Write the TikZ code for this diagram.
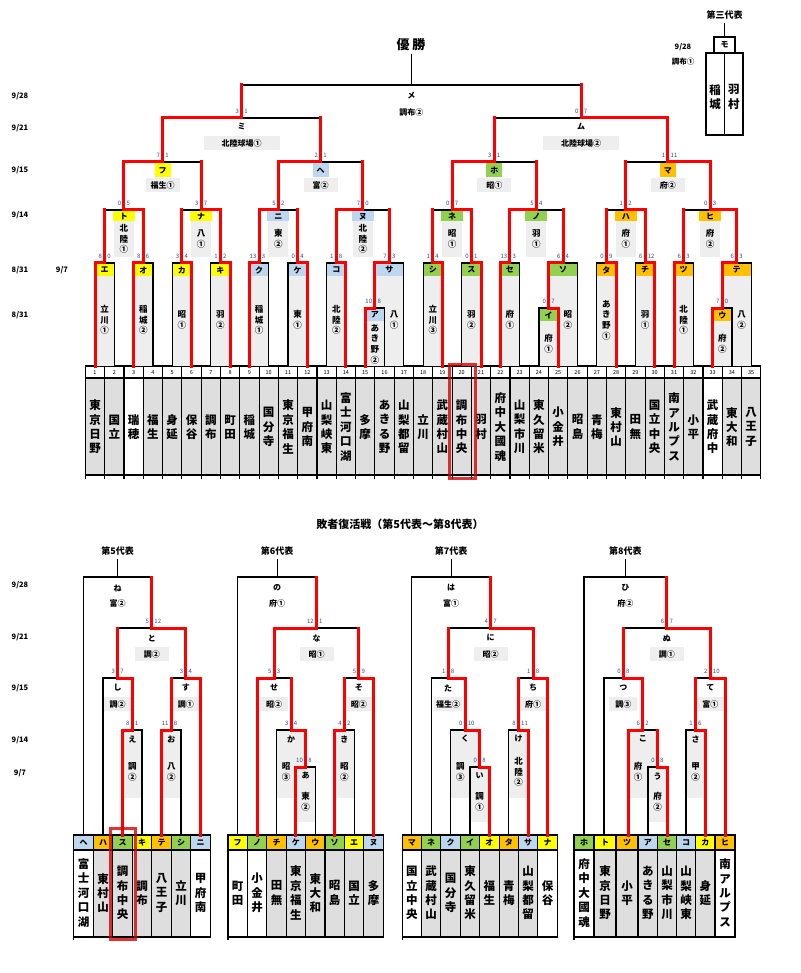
\documentclass[tikz,border=0pt]{standalone}
\usepackage{fontspec}
\setmainfont{Noto Sans CJK JP}
\definecolor{cy}{HTML}{FFFF00}
\definecolor{cb}{HTML}{BDD7EE}
\definecolor{cg}{HTML}{92D050}
\definecolor{co}{HTML}{FFC000}
\definecolor{lg}{HTML}{EEEEEE}
\definecolor{tg}{HTML}{DEDEDE}
\definecolor{scol}{HTML}{2F4F8F}
\definecolor{rl}{HTML}{FF0000}
\def\vtend{VTEND}
\newcommand\vtl[1]{\ifx#1\vtend\else\hbox to 1.15em{\hss#1\hss}\expandafter\vtl\fi}
\newcommand\vt[1]{\vbox{\baselineskip=1.25em\lineskip=0pt\lineskiplimit=-20pt\expandafter\vtl#1\vtend}}
\newcommand\Mblack[8]{\draw[bk] (#1,#2) -- (#1,#5) -- (#3,#5) -- (#3,#4);}
\newcommand\Mred[8]{%
  \ifnum#6=1 \draw[rd] (#1,#2) -- (#1,#5);\fi
  \ifnum#7=1 \draw[rd] (#3,#4) -- (#3,#5);\fi
  \ifnum#8=1 \draw[rd] (#1,#5) -- ({(#1+#3)/2},#5);\fi
  \ifnum#8=2 \draw[rd] (#3,#5) -- ({(#1+#3)/2},#5);\fi}
\newcommand\scr[4]{\node[sc,anchor=east] at ({#1-2.5},{#2-7}) {#3};\node[sc,anchor=west] at ({#1+2.5},{#2-7}) {#4};}
\def\allmatches{%
% top bracket
\M{365.2}{366}{384.5}{366}{308}{1}{0}{1}
\M{538.9}{366}{558.2}{366}{308}{0}{1}{2}
\M{712.6}{366}{731.9}{366}{308}{1}{0}{1}
\M{95}{366}{114.3}{366}{263}{1}{0}{1}
\M{133.6}{366}{152.9}{366}{263}{1}{0}{1}
\M{172.2}{366}{191.5}{366}{263}{0}{1}{2}
\M{210.8}{366}{230.1}{366}{263}{0}{1}{2}
\M{249.4}{366}{268.7}{366}{263}{1}{0}{1}
\M{288}{366}{307.3}{366}{263}{0}{1}{2}
\M{326.6}{366}{345.9}{366}{263}{0}{1}{2}
\M{374.85}{308}{403.8}{366}{263}{1}{0}{1}
\M{423.1}{366}{442.4}{366}{263}{0}{1}{2}
\M{461.7}{366}{481}{366}{263}{0}{1}{2}
\M{500.3}{366}{519.6}{366}{263}{1}{0}{1}
\M{548.55}{308}{577.5}{366}{263}{1}{0}{1}
\M{596.8}{366}{616.1}{366}{263}{0}{1}{2}
\M{635.4}{366}{654.7}{366}{263}{0}{1}{2}
\M{674}{366}{693.3}{366}{263}{1}{0}{1}
\M{722.25}{308}{751.2}{366}{263}{1}{0}{1}
\M{104.65}{263}{143.25}{263}{210}{1}{1}{2}
\M{181.85}{263}{220.45}{263}{210}{1}{1}{2}
\M{259.05}{263}{297.65}{263}{210}{1}{1}{1}
\M{336.25}{263}{389.33}{263}{210}{1}{1}{1}
\M{432.75}{263}{471.35}{263}{210}{1}{1}{2}
\M{509.95}{263}{563.03}{263}{210}{1}{1}{1}
\M{606.45}{263}{645.05}{263}{210}{1}{1}{2}
\M{683.65}{263}{736.73}{263}{210}{1}{1}{2}
\M{123.95}{210}{201.15}{210}{162}{1}{1}{1}
\M{278.35}{210}{362.79}{210}{162}{1}{1}{1}
\M{452.05}{210}{536.49}{210}{162}{1}{1}{1}
\M{625.75}{210}{710.19}{210}{162}{1}{1}{2}
\M{162.55}{162}{320.57}{162}{118}{1}{1}{1}
\M{494.27}{162}{667.97}{162}{118}{1}{1}{2}
\M{241.56}{118}{581.12}{118}{85}{1}{1}{0}
% 5th
\M{122.5}{835}{142}{835}{730}{1}{0}{1}
\M{161.5}{835}{181}{835}{730}{1}{0}{1}
\M{103}{835}{132.25}{730}{678}{0}{1}{2}
\M{171.25}{730}{200.5}{835}{678}{1}{1}{2}
\M{117.63}{678}{185.88}{678}{628}{1}{1}{2}
\M{83.5}{835}{151.75}{628}{577}{0}{1}{0}
% 6th
\M{295.9}{835}{315.3}{835}{767}{1}{0}{1}
\M{276.5}{835}{305.6}{767}{730}{0}{1}{2}
\M{334.7}{835}{354.1}{835}{730}{1}{0}{1}
\M{257.1}{835}{291.05}{730}{678}{1}{1}{1}
\M{344.4}{730}{373.5}{835}{678}{1}{1}{2}
\M{274.08}{678}{358.95}{678}{628}{1}{1}{1}
\M{237.7}{835}{316.5}{628}{577}{0}{1}{0}
% 7th
\M{470}{835}{489.4}{835}{767}{0}{1}{2}
\M{450.6}{835}{479.7}{767}{730}{0}{1}{2}
\M{508.8}{835}{528.2}{835}{730}{0}{1}{2}
\M{431.2}{835}{465.15}{730}{678}{0}{1}{2}
\M{518.5}{730}{547.6}{835}{678}{1}{1}{2}
\M{448.18}{678}{533.05}{678}{628}{1}{1}{2}
\M{411.8}{835}{490.6}{628}{577}{0}{1}{0}
% 8th
\M{648}{835}{667}{835}{767}{0}{1}{2}
\M{628}{835}{657.5}{767}{730}{1}{1}{1}
\M{686}{835}{705}{835}{730}{0}{1}{2}
\M{604}{835}{642.75}{730}{678}{0}{1}{2}
\M{695.5}{730}{725}{835}{678}{1}{1}{2}
\M{623.38}{678}{710.25}{678}{628}{1}{1}{2}
\M{584}{835}{666.8}{628}{577}{0}{1}{0}
}
\begin{document}
\begin{tikzpicture}[x=1pt,y=-1pt,
  bk/.style={line width=1.2pt,black},
  thin1/.style={line width=1.1pt,black},
  rd/.style={line width=3pt,color=rl,line cap=rect},
  sc/.style={font=\fontsize{6}{6}\selectfont,text=scol,inner sep=0pt},
  lt/.style={font=\fontsize{8}{8}\selectfont\bfseries,inner sep=0pt},
  vnf/.style={font=\fontsize{8.5}{8.5}\selectfont\bfseries,inner sep=0pt},
  nmf/.style={font=\fontsize{11.5}{11.5}\selectfont\bfseries,inner sep=0pt},
  num/.style={font=\fontsize{5.5}{5.5}\selectfont,inner sep=0pt},
  dt/.style={font=\fontsize{7.5}{7.5}\selectfont\bfseries,inner sep=0pt},
  hd/.style={font=\fontsize{9}{9}\selectfont\bfseries,inner sep=0pt}]
\useasboundingbox (0,0) rectangle (800,973);
\fill[white] (0,0) rectangle (800,973);

% ---------- titles and dates ----------
\node[font=\fontsize{13}{13}\selectfont\bfseries] (title) at (411,45) {優\ 勝};
\node[hd] (third) at (724.5,15) {第三代表};
\node[dt] at (20,96) {9/28};
\node[dt] at (20,128) {9/21};
\node[dt] at (20,170) {9/15};
\node[dt] at (20,215) {9/14};
\node[dt] at (20,270) {8/31};
\node[dt] at (62,270) {9/7};
\node[dt] at (20,315) {8/31};
\node[font=\fontsize{11}{11}\selectfont\bfseries] at (400,524) {敗者復活戦（第5代表～第8代表）};
\node[dt] at (20,585) {9/28};
\node[dt] at (20,637) {9/21};
\node[dt] at (20,688) {9/15};
\node[dt] at (20,740) {9/14};
\node[dt] at (20,773) {9/7};
\node[hd] (g5) at (117.63,551) {第5代表};
\node[hd] (g6) at (277.1,551) {第6代表};
\node[hd] (g7) at (451.2,551) {第7代表};
\node[hd] (g8) at (625.4,551) {第8代表};
\draw[bk] (117.63,559) -- (117.63,577);
\draw[bk] (277.1,559) -- (277.1,577);
\draw[bk] (451.2,559) -- (451.2,577);
\draw[bk] (625.4,559) -- (625.4,577);
\draw[bk] (411.34,54) -- (411.34,85);

% ---------- third place ----------
\draw[bk] (724.5,23) -- (724.5,37);
\draw[bk] (714,37) rectangle (735,53);
\node[lt] at (724.5,45) {モ};
\draw[bk] (706,53) rectangle (724.5,135);
\draw[bk] (724.5,53) rectangle (743,135);
\node[nmf] at (715.2,97) {\vt{稲城}};
\node[nmf] at (733.8,97) {\vt{羽村}};
\node[dt] at (683,47) {9/28};
\node[dt] at (683,62) {調布①};

% ---------- top team columns ----------
\foreach \i/\nm/\ff in {1/東京日野/tg,2/国立/tg,3/瑞穂/white,4/福生/tg,5/身延/tg,6/保谷/tg,7/調布/tg,8/町田/tg,9/稲城/tg,10/国分寺/tg,11/東京福生/tg,12/甲府南/tg,13/山梨峡東/tg,14/富士河口湖/tg,15/多摩/tg,16/あきる野/tg,17/山梨都留/tg,18/立川/tg,19/武蔵村山/tg,20/調布中央/tg,21/羽村/tg,22/府中大國魂/tg,23/山梨市川/tg,24/東久留米/tg,25/小金井/tg,26/昭島/tg,27/青梅/tg,28/東村山/tg,29/田無/tg,30/国立中央/tg,31/南アルプス/tg,32/小平/tg,33/武蔵府中/white,34/東大和/tg,35/八王子/tg}{
  \pgfmathsetmacro\cx{95+(\i-1)*19.3}
  \fill[\ff] (\cx-9.65,378) rectangle (\cx+9.65,475);
  \draw[thin1] (\cx-9.65,366) rectangle (\cx+9.65,378);
  \draw[thin1] (\cx-9.65,378) rectangle (\cx+9.65,475);
  \draw[thin1] (\cx-9.65,475) -- (\cx-9.65,479);
  \node[num] at (\cx,372.3) {\i};
  \node[nmf] at (\cx,427) {\vt{\nm}};
}
\draw[thin1] (760.85,475) -- (760.85,479);

% ---------- top fills and letters ----------
\foreach \xa/\xb/\cc/\lb in {95/114.3/cy/エ,133.6/152.9/cy/オ,172.2/191.5/cy/カ,210.8/230.1/cy/キ,249.4/268.7/cb/ク,288/307.3/cb/ケ,326.6/345.9/cb/コ,374.85/403.8/cb/サ,423.1/442.4/cg/シ,461.7/481/cg/ス,500.3/519.6/cg/セ,548.55/577.5/cg/ソ,596.8/616.1/co/タ,635.4/654.7/co/チ,674/693.3/co/ツ,722.25/751.2/co/テ}{
  \fill[lg] (\xa,263) rectangle (\xb,366);
  \fill[\cc] (\xa,263) rectangle (\xb,276);
  \node[lt] at ({(\xa+\xb)/2},270) {\lb};
}
\foreach \xa/\xb/\cc/\lb in {365.2/384.5/cb/ア,538.9/558.2/cg/イ,712.6/731.9/co/ウ}{
  \fill[lg] (\xa,308) rectangle (\xb,366);
  \fill[\cc] (\xa,308) rectangle (\xb,321);
  \node[lt] at ({(\xa+\xb)/2},315) {\lb};
}
\foreach \c/\cc/\lb in {123.95/cy/ト,201.15/cy/ナ,278.35/cb/ニ,362.79/cb/ヌ,452.05/cg/ネ,536.49/cg/ノ,625.75/co/ハ,710.19/co/ヒ}{
  \fill[lg] (\c-10,221) rectangle (\c+10,257);
  \fill[\cc] (\c-11,211) rectangle (\c+11,221);
  \node[lt] at (\c,216.5) {\lb};
}
\foreach \c/\cc/\lb in {162.55/cy/フ,320.57/cb/ヘ,494.27/cg/ホ,667.97/co/マ}{
  \fill[lg] (\c-17,178) rectangle (\c+17,192);
  \fill[\cc] (\c-8,163) rectangle (\c+8,177);
  \node[lt] at (\c,170.5) {\lb};
}
\fill[lg] (203.5,136) rectangle (279.5,150);
\fill[lg] (543,136) rectangle (619,150);

% ---------- bottom fills ----------
\foreach \xa/\xb in {122.5/142,161.5/181,276.5/305.6,334.7/354.1,450.6/479.7,508.8/528.2,628/657.5,686/705}{
  \fill[lg] (\xa,730) rectangle (\xb,798);
}
\foreach \xa/\xb in {295.9/315.3,470/489.4,648/667}{
  \fill[lg] (\xa,767) rectangle (\xb,822);
}
\foreach \c in {151.75,316.5,490.6,666.8}{\fill[lg] (\c-17,647) rectangle (\c+17,661);}
\foreach \c in {117.63,185.88,274.08,358.95,448.18,533.05,623.38,710.25}{\fill[lg] (\c-14,697) rectangle (\c+14,711);}

% ---------- bottom team columns ----------
\foreach \xa/\xb/\cc/\lb/\nm/\ff in {
 73.75/93.25/cb/ヘ/富士河口湖/white,93.25/112.75/co/ハ/東村山/tg,112.75/132.25/cg/ス/調布中央/tg,132.25/151.75/cy/キ/調布/tg,151.75/171.25/co/テ/八王子/tg,171.25/190.75/cg/シ/立川/tg,190.75/210.25/cb/ニ/甲府南/white,
 228/247.4/cy/フ/町田/white,247.4/266.8/cg/ノ/小金井/white,266.8/286.2/co/チ/田無/tg,286.2/305.6/cb/ケ/東京福生/tg,305.6/325/co/ウ/東大和/tg,325/344.4/cg/ソ/昭島/tg,344.4/363.8/cy/エ/国立/tg,363.8/383.2/cb/ヌ/多摩/tg,
 402.1/421.5/co/マ/国立中央/white,421.5/440.9/cg/ネ/武蔵村山/tg,440.9/460.3/cb/ク/国分寺/tg,460.3/479.7/cg/イ/東久留米/tg,479.7/499.1/cy/オ/福生/tg,499.1/518.5/co/タ/青梅/tg,518.5/537.9/cb/サ/山梨都留/tg,537.9/557.3/cy/ナ/保谷/white,
 574/594/cg/ホ/府中大國魂/white,594/616/cy/ト/東京日野/tg,616/638/co/ツ/小平/tg,638/657.5/cb/ア/あきる野/tg,657.5/676.5/cg/セ/山梨市川/tg,676.5/695.5/cb/コ/山梨峡東/tg,695.5/715/cy/カ/身延/tg,715/735/co/ヒ/南アルプス/white}{
  \fill[\cc] (\xa,835) rectangle (\xb,850);
  \fill[\ff] (\xa,850) rectangle (\xb,937);
  \draw[thin1] (\xa,835) rectangle (\xb,850);
  \draw[thin1] (\xa,850) rectangle (\xb,937);
  \node[lt] at ({(\xa+\xb)/2},842.5) {\lb};
  \node[nmf] at ({(\xa+\xb)/2},893) {\vt{\nm}};
}
\foreach \xa in {73.75,228,402.1,574}{\draw[thin1] (\xa,937) -- (\xa,940);}

% ---------- bracket lines ----------
\let\M\Mblack \allmatches
\let\M\Mred \allmatches

% ---------- top labels ----------
\foreach \x/\y/\v in {104.65/320/立川①,143.25/320/稲城②,181.85/320/昭①,220.45/320/羽②,259.05/320/稲城①,297.65/320/東①,336.25/320/北陸②,394.2/320/八①,432.75/320/立川③,471.35/320/羽②,509.95/320/府①,567.9/320/昭②,606.45/320/あき野①,645.05/320/羽①,683.65/320/北陸①,741.6/320/八②,374.85/344/あき野②,548.55/344/府①,722.25/344/府②,123.95/239/北陸①,201.15/239/八①,278.35/239/東②,362.79/239/北陸②,452.05/239/昭①,536.49/239/羽①,625.75/239/府①,710.19/239/府②}{
  \node[vnf] at (\x,\y) {\vt{\v}};
}
\foreach \c/\v in {162.55/福生①,320.57/富②,494.27/昭①,667.97/府②}{\node[lt] at (\c,185) {\v};}
\node[lt] at (241.56,127) {ミ};
\node[lt] at (241.56,143) {北陸球場①};
\node[lt] at (581.12,127) {ム};
\node[lt] at (581.12,143) {北陸球場②};
\node[lt] at (411.34,96) {メ};
\node[lt] at (411.34,112) {調布②};

% ---------- top scores ----------
\scr{374.85}{308}{10}{8}\scr{548.55}{308}{0}{7}\scr{722.25}{308}{7}{0}
\scr{104.65}{263}{8}{0}\scr{143.25}{263}{8}{6}\scr{181.85}{263}{3}{4}\scr{220.45}{263}{1}{2}
\scr{259.05}{263}{13}{3}\scr{297.65}{263}{0}{4}\scr{336.25}{263}{1}{8}\scr{389.33}{263}{7}{3}
\scr{432.75}{263}{1}{4}\scr{471.35}{263}{0}{1}\scr{509.95}{263}{13}{3}\scr{563.03}{263}{6}{4}
\scr{606.45}{263}{0}{9}\scr{645.05}{263}{6}{12}\scr{683.65}{263}{6}{3}\scr{736.73}{263}{6}{3}
\scr{123.95}{210}{0}{5}\scr{201.15}{210}{3}{7}\scr{278.35}{210}{5}{2}\scr{362.79}{210}{7}{0}
\scr{452.05}{210}{0}{7}\scr{536.49}{210}{5}{4}\scr{625.75}{210}{1}{2}\scr{710.19}{210}{0}{3}
\scr{162.55}{162}{7}{1}\scr{320.57}{162}{2}{1}\scr{494.27}{162}{3}{1}\scr{667.97}{162}{1}{11}
\scr{241.56}{118}{3}{1}\scr{581.12}{118}{0}{7}

% ---------- bottom labels ----------
\foreach \c/\lb/\v in {117.63/ね/富②,277.1/の/府①,451.2/は/富①,625.4/ひ/府②}{
  \node[lt] at (\c,588) {\lb}; \node[lt] at (\c,603) {\v};}
\foreach \c/\lb/\v in {151.75/と/調②,316.5/な/昭①,490.6/に/昭②,666.8/ぬ/調①}{
  \node[lt] at (\c,638) {\lb}; \node[lt] at (\c,654) {\v};}
\foreach \c/\lb/\v in {117.63/し/調②,185.88/す/調①,274.08/せ/昭②,358.95/そ/昭②,448.18/た/福生②,533.05/ち/府①,623.38/つ/調③,710.25/て/富①}{
  \node[lt] at (\c,688) {\lb}; \node[lt] at (\c,704) {\v};}
\foreach \c/\vx/\lb/\v in {132.25/132.25/え/調②,171.25/171.25/お/八②,291.05/286.2/か/昭③,344.4/344.4/き/昭②,465.15/460.3/く/調③,518.5/518.5/け/北陸②,642.75/638/こ/府①,695.5/695.5/さ/甲②}{
  \node[lt] at (\c,739) {\lb}; \node[vnf] at (\vx,772) {\vt{\v}};}
\foreach \c/\lb/\v in {305.6/あ/東②,479.7/い/調①,657.5/う/府②}{
  \node[lt] at (\c,776) {\lb}; \node[vnf] at (\c,802) {\vt{\v}};}

% ---------- bottom scores ----------
\scr{132.25}{730}{8}{1}\scr{171.25}{730}{11}{8}\scr{117.63}{678}{3}{7}\scr{185.88}{678}{3}{4}\scr{151.75}{628}{5}{12}
\scr{305.6}{767}{10}{8}\scr{291.05}{730}{3}{4}\scr{344.4}{730}{4}{2}\scr{274.08}{678}{5}{3}\scr{358.95}{678}{5}{9}\scr{316.5}{628}{12}{1}
\scr{479.7}{767}{0}{8}\scr{465.15}{730}{0}{10}\scr{518.5}{730}{8}{11}\scr{448.18}{678}{1}{8}\scr{533.05}{678}{1}{8}\scr{490.6}{628}{4}{7}
\scr{657.5}{767}{0}{8}\scr{642.75}{730}{6}{2}\scr{695.5}{730}{1}{6}\scr{623.38}{678}{0}{8}\scr{710.25}{678}{2}{10}\scr{666.8}{628}{6}{7}

% ---------- highlight of 調布中央 ----------
\draw[line width=3pt,color=red!85!black,opacity=0.8] (449,364) rectangle (475,478);
\draw[line width=3pt,color=red!85!black,opacity=0.8] (110.5,828) rectangle (135,939);
\end{tikzpicture}
\end{document}
